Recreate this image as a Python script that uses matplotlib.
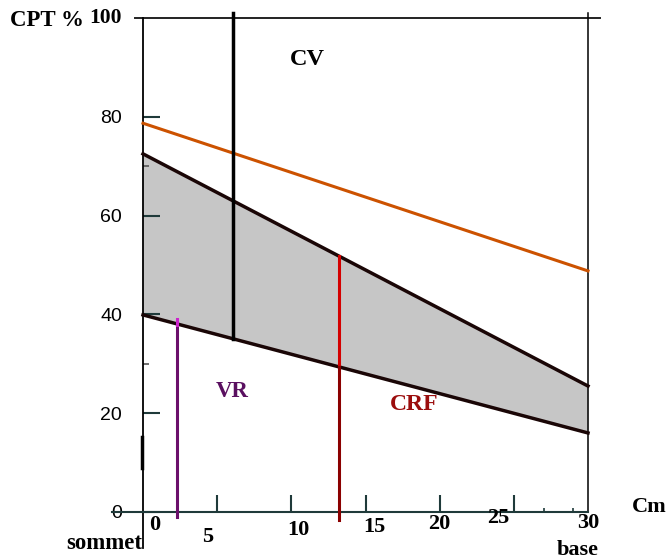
import matplotlib
matplotlib.use("Agg")
import matplotlib.pyplot as plt

# data
x_ends = [0, 30]
cv_line = [78.7, 48.8]        # orange line
upper_line = [72.5, 25.5]     # top of grey band
lower_line = [39.9, 16.0]     # bottom of grey band
x_black = 6.1
x_red = 13.2
x_purple = 2.3
y_ticks = [0, 20, 40, 60, 80]
y_minor = [30, 70]
x_ticks = [5, 10, 15, 20, 25]
x_minor = [27, 29]
x_labels = ["0", "5", "10", "15", "20", "25", "30"]
x_label_pos = [0, 5, 10, 15, 20, 25, 30]


def line_at(line, x):
    return line[0] + (line[1] - line[0]) * x / 30


serif = "Liberation Serif"
sans = "Liberation Sans"

fig = plt.figure(figsize=(6.68, 5.6), dpi=100)
ax = fig.add_axes([143 / 668, 48 / 560, 445 / 668, 494 / 560])
ax.set_xlim(0, 30)
ax.set_ylim(0, 100)
for s in ax.spines.values():
    s.set_visible(False)

# grey band
ax.fill_between(x_ends, lower_line, upper_line, color="#c6c6c6", lw=0, zorder=1)
ax.plot(x_ends, upper_line, color="#1a0606", lw=2.5, zorder=3, clip_on=False)
ax.plot(x_ends, lower_line, color="#1a0606", lw=2.5, zorder=3, clip_on=False)
ax.plot(x_ends, cv_line, color="#cc5200", lw=2.2, zorder=3, clip_on=False)

# verticals
ax.plot([x_black, x_black], [line_at(lower_line, x_black), 101], color="black",
        lw=2.5, zorder=4, clip_on=False)
ax.plot([x_red, x_red], [line_at(lower_line, x_red), line_at(upper_line, x_red)],
        color="#d40000", lw=2.2, zorder=4, clip_on=False)
ax.plot([x_red, x_red], [-1.6, line_at(lower_line, x_red)],
        color="#8b0000", lw=2.2, zorder=4, clip_on=False)
ax.plot([x_purple, x_purple], [-1, 37.8], color="#6b0f6b", lw=2.2, zorder=4, clip_on=False)
ax.plot([x_purple, x_purple], [37.8, 39.1], color="#cc22cc", lw=2.2, zorder=4, clip_on=False)

# frame lines
ax.plot([-0.55, 30.8], [100, 100], color="#222222", lw=1.4, clip_on=False, zorder=2)
ax.plot([0, 0], [-7.2, 100], color="black", lw=1.3, clip_on=False, zorder=2)
ax.plot([-0.07, -0.07], [8.9, 15.2], color="black", lw=2.5, clip_on=False, zorder=2)
ax.plot([30, 30], [0.3, 101], color="black", lw=1.1, clip_on=False, zorder=2)
ax.plot([-2.1, 30], [0, 0], color="#1f3a3a", lw=1.5, clip_on=False, zorder=2)

# y ticks
ax.set_yticks(y_ticks)
ax.set_yticklabels([str(v) for v in y_ticks], fontfamily=sans, fontsize=14)
ax.set_yticks(y_minor, minor=True)
ax.tick_params(axis="y", which="major", direction="in", length=12, width=1.5,
               color="#1f3a3a", pad=15)
ax.tick_params(axis="y", which="minor", direction="in", length=4, width=1.2,
               color="#555555")

# x ticks
ax.set_xticks(x_ticks)
ax.set_xticks(x_minor, minor=True)
ax.set_xticklabels([])
ax.tick_params(axis="x", which="major", direction="in", length=12, width=1.5,
               color="#1f3a3a")
ax.tick_params(axis="x", which="minor", direction="in", length=3, width=1.2,
               color="#1f3a3a")

dx = [12, -10, 7, 9, 0, -16, 0]
dy = [-13, -25, -18, -15, -12, -6, -11]
for lab, xp, ox, oy in zip(x_labels, x_label_pos, dx, dy):
    ax.annotate(lab, (xp, 0), xytext=(ox * 0.72, oy * 0.72), textcoords="offset points",
                ha="center", va="center", fontfamily=serif, fontweight="bold",
                fontsize=16, annotation_clip=False)

bold = dict(fontfamily=serif, fontweight="bold", ha="center", va="center")
ax.text(-2.55, 100, "100", fontsize=15.5, **bold)
ax.text(-6.5, 99.4, "CPT %", fontsize=16.5, **bold)
ax.text(11.06, 91.5, "CV", fontsize=17.5, **bold)
ax.text(6.0, 24.3, "VR", fontsize=16.5, color="#5a1060", **bold)
ax.text(18.3, 21.7, "CRF", fontsize=17, color="#9b0d0d", **bold)
ax.text(34.1, 1.0, "Cm", fontsize=16, **bold)
ax.text(-2.6, -6.4, "sommet", fontsize=16.5, **bold)
ax.text(29.3, -7.6, "base", fontsize=16, **bold)

fig.savefig("out.png", dpi=100)
